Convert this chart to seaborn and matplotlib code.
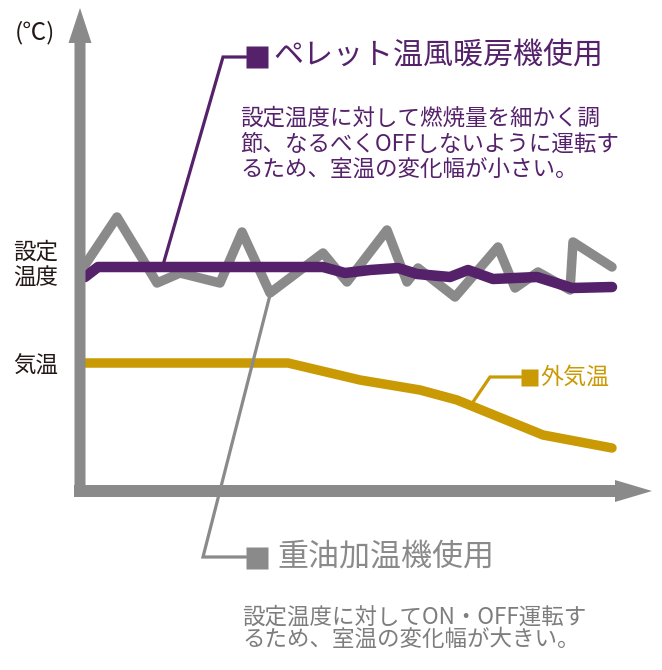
import matplotlib
matplotlib.use("Agg")
import matplotlib.pyplot as plt
from matplotlib.patches import FancyArrow
import seaborn as sns
import pandas as pd

sns.set_theme(style="white")
plt.rcParams['font.family'] = ['Noto Sans CJK JP', 'DejaVu Sans']

# ---- data (figure coordinates, y grows downward) ----
oil_x = [85, 117, 157, 180, 220, 242, 270, 323, 347, 387, 407, 418, 455, 498, 515, 538, 570, 573, 612]
oil_y = [265, 217, 283, 273, 283, 232, 293, 253, 282, 230, 282, 268, 297, 247, 288, 272, 290, 242, 267]

pellet_x = [85, 98, 323, 345, 370, 398, 417, 450, 468, 493, 537, 572, 612]
pellet_y = [277, 267, 267, 273, 270, 268, 274, 277, 270, 279, 277, 288, 287]

outside_x = [85, 288, 360, 420, 457, 543, 612]
outside_y = [363, 363, 380, 390, 400, 435, 448]

series_names = ["重油加温機使用", "ペレット温風暖房機使用", "外気温"]
y_labels = ["設定\n温度", "気温"]
unit_label = "(℃)"
pellet_desc = "設定温度に対して燃焼量を細かく調\n節、なるべくOFFしないように運転す\nるため、室温の変化幅が小さい。"
oil_desc = "設定温度に対してON・OFF運転す\nるため、室温の変化幅が大きい。"

PURPLE = "#55216b"
GRAY = "#8a8a8a"
GOLD = "#c99a03"
BLACK = "#231815"

px = 0.72  # points per pixel at dpi 100

df = pd.concat([
    pd.DataFrame({"x": oil_x, "y": oil_y, "s": series_names[0]}),
    pd.DataFrame({"x": pellet_x, "y": pellet_y, "s": series_names[1]}),
    pd.DataFrame({"x": outside_x, "y": outside_y, "s": series_names[2]}),
])

fig = plt.figure(figsize=(6.62, 6.70), dpi=100)
ax = fig.add_axes([0, 0, 1, 1])

widths = {series_names[0]: 9.5, series_names[1]: 10.5, series_names[2]: 9.5}
colors = {series_names[0]: GRAY, series_names[1]: PURPLE, series_names[2]: GOLD}
for name in series_names:
    sub = df[df["s"] == name]
    sns.lineplot(data=sub, x="x", y="y", sort=False, estimator=None, ax=ax,
                 color=colors[name], lw=widths[name] * px, legend=False,
                 solid_capstyle="round", solid_joinstyle="round", zorder=3)
ax.set_xlim(0, 662)
ax.set_ylim(670, 0)
ax.axis("off")

# axes arrows
ax.add_patch(FancyArrow(80, 497, 0, -489, width=11, head_width=23, head_length=35,
                        length_includes_head=True, color=GRAY, lw=0, zorder=5))
ax.add_patch(FancyArrow(74, 491, 578, 0, width=12, head_width=22, head_length=37,
                        length_includes_head=True, color=GRAY, lw=0, zorder=5))

# connectors and squares
ax.plot([163, 223, 246], [265, 57, 57], color=PURPLE, lw=3.2 * px, zorder=4, solid_joinstyle="miter")
ax.plot([256.5], [56.5], marker="s", ms=22.5 * px, color=PURPLE, mec="none", zorder=6)
ax.plot([270, 203, 246], [295, 557, 557], color=GRAY, lw=3.2 * px, zorder=4, solid_joinstyle="miter")
ax.plot([256.5], [557.5], marker="s", ms=21.5 * px, color=GRAY, mec="none", zorder=6)
ax.plot([473, 490, 521], [402, 377, 377], color=GOLD, lw=3.2 * px, zorder=4, solid_joinstyle="miter")
ax.plot([528.5], [377], marker="s", ms=17 * px, color=GOLD, mec="none", zorder=6)

# texts
ax.text(35, 33, unit_label, fontsize=24 * px, color=BLACK, ha="center", va="center")
ax.text(273, 56, series_names[1], fontsize=30 * px, color=PURPLE, ha="left", va="center")
ax.text(240, 144, pellet_desc, fontsize=22.5 * px, color=PURPLE, ha="left", va="center",
        linespacing=1.16)
ax.text(277, 557, series_names[0], fontsize=31 * px, color=GRAY, ha="left", va="center")
ax.text(242, 628, oil_desc, fontsize=22.5 * px, color="#7d7d7d", ha="left", va="center",
        linespacing=0.92)
ax.text(540, 377, series_names[2], fontsize=23 * px, color=GOLD, ha="left", va="center")
ax.text(58, 265, y_labels[0], fontsize=22.5 * px, color=BLACK, ha="right", va="center",
        linespacing=1.2)
ax.text(58, 366, y_labels[1], fontsize=22.5 * px, color=BLACK, ha="right", va="center")

fig.savefig("out.png", dpi=100, facecolor="white")
